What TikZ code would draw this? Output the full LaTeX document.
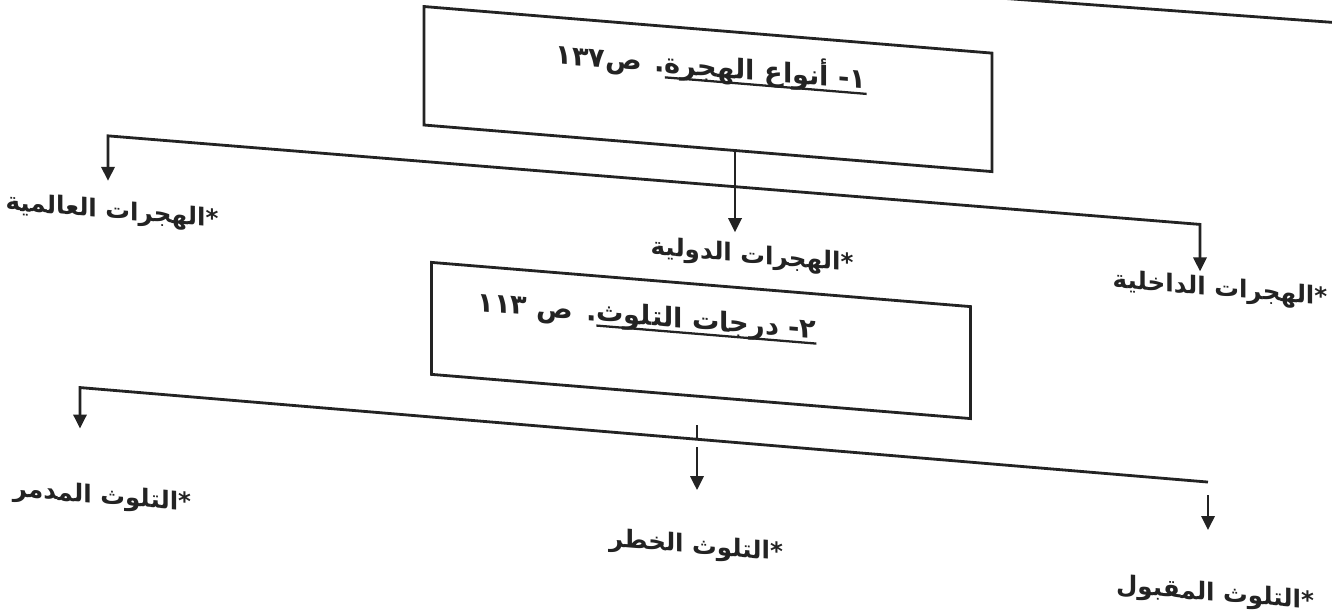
\documentclass[tikz,border=0pt]{standalone}
\usepackage{fontspec}
\usepackage{tikz}
\usetikzlibrary{positioning, arrows.meta}
\newfontfamily\arabicfont[Script=Arabic]{DejaVu Sans}
\TeXXeTstate=1
\definecolor{ScanInk}{RGB}{35,35,35}
% thick underline for the box titles
\newcommand{\thickul}[1]{\vtop{\hbox{\beginR#1\endR}\kern-1.8pt\hrule height 1.3pt}}

\begin{document}
\begin{tikzpicture}[x=0.02cm, y=-0.02cm,
      panel/.style={draw=ScanInk, line width=1.6pt, inner sep=0pt},
      title/.style={font=\arabicfont\bfseries\fontsize{15.5}{18}\selectfont, text=ScanInk},
      leaf/.style={font=\arabicfont\bfseries\fontsize{14}{16}\selectfont, text=ScanInk},
      link/.style={draw=ScanInk, line width=1.6pt},
      arr/.style={link, -{Triangle[length=8pt,width=7.5pt]}},
      twoarr/.style={link, {Triangle[length=8pt,width=7.5pt]}-{Triangle[length=8pt,width=7.5pt]}}
    ]
    \useasboundingbox (0,0) rectangle (1332,613);
    \begin{scope}[yslant=-0.082, transform shape]
    % strip cut off at the top
    \coordinate (hdL) at (1005,-84);
    \coordinate (hdR) at (1345,-87);
    \draw[link] (hdL) -- (hdR);

    % Box 1
    \node[panel, minimum width=11.36cm, minimum height=2.37cm] (types) at (708,31) {};
    \node[title] (typesTitle) at (711,8)
        {\arabicfont\beginR\thickul{١- أنواع الهجرة}. ص\beginL ١٣٧\endL\endR};

    \coordinate (b1L) at (108,127);
    \coordinate (b1R) at (1200,126);
    \coordinate (worldTip) at (108,172);
    \coordinate (intlTip)  at (735,172);
    \coordinate (innerTip) at (1200,173);
    \draw[twoarr] (worldTip) -- (b1L) -- (b1R) -- (innerTip);
    \draw[arr] (types.south -| intlTip) -- (intlTip);

    \node[leaf] (world) at (112,203) {\arabicfont\beginR *الهجرات العالمية\endR};
    \node[leaf] (intl)  at (752,195) {\arabicfont\beginR *الهجرات الدولية\endR};
    \node[leaf] (inner) at (1220,190) {\arabicfont\beginR *الهجرات الداخلية\endR};

    % Box 2
    \node[panel, minimum width=10.78cm, minimum height=2.24cm] (degrees) at (701,283) {};
    \node[title] (degreesTitle) at (647,265)
        {\arabicfont\beginR\thickul{٢- درجات التلوث}. ص \beginL ١١٣\endL\endR};

    \coordinate (b2L) at (80,381);
    \coordinate (b2R) at (1208,383);
    \coordinate (ruinTip) at (80,422);
    \coordinate (tickTop) at (697,368);
    \coordinate (riskTop) at (697,390);
    \coordinate (riskTip) at (697,433);
    \coordinate (okTop) at (1208,396);
    \coordinate (okTip) at (1208,431);
    \draw[arr] (b2R) -- (b2L) -- (ruinTip);
    \draw[link] (tickTop) -- (tickTop |- b2L);
    \draw[arr] (riskTop) -- (riskTip);
    \draw[arr] (okTop) -- (okTip);

    \node[leaf] (ruin) at (102,489) {\arabicfont\beginR *التلوث المدمر\endR};
    \node[leaf] (risk) at (696,490) {\arabicfont\beginR *التلوث الخطر\endR};
    \node[leaf] (ok)   at (1215,495) {\arabicfont\beginR *التلوث المقبول\endR};
    \end{scope}
  \end{tikzpicture}
\end{document}
